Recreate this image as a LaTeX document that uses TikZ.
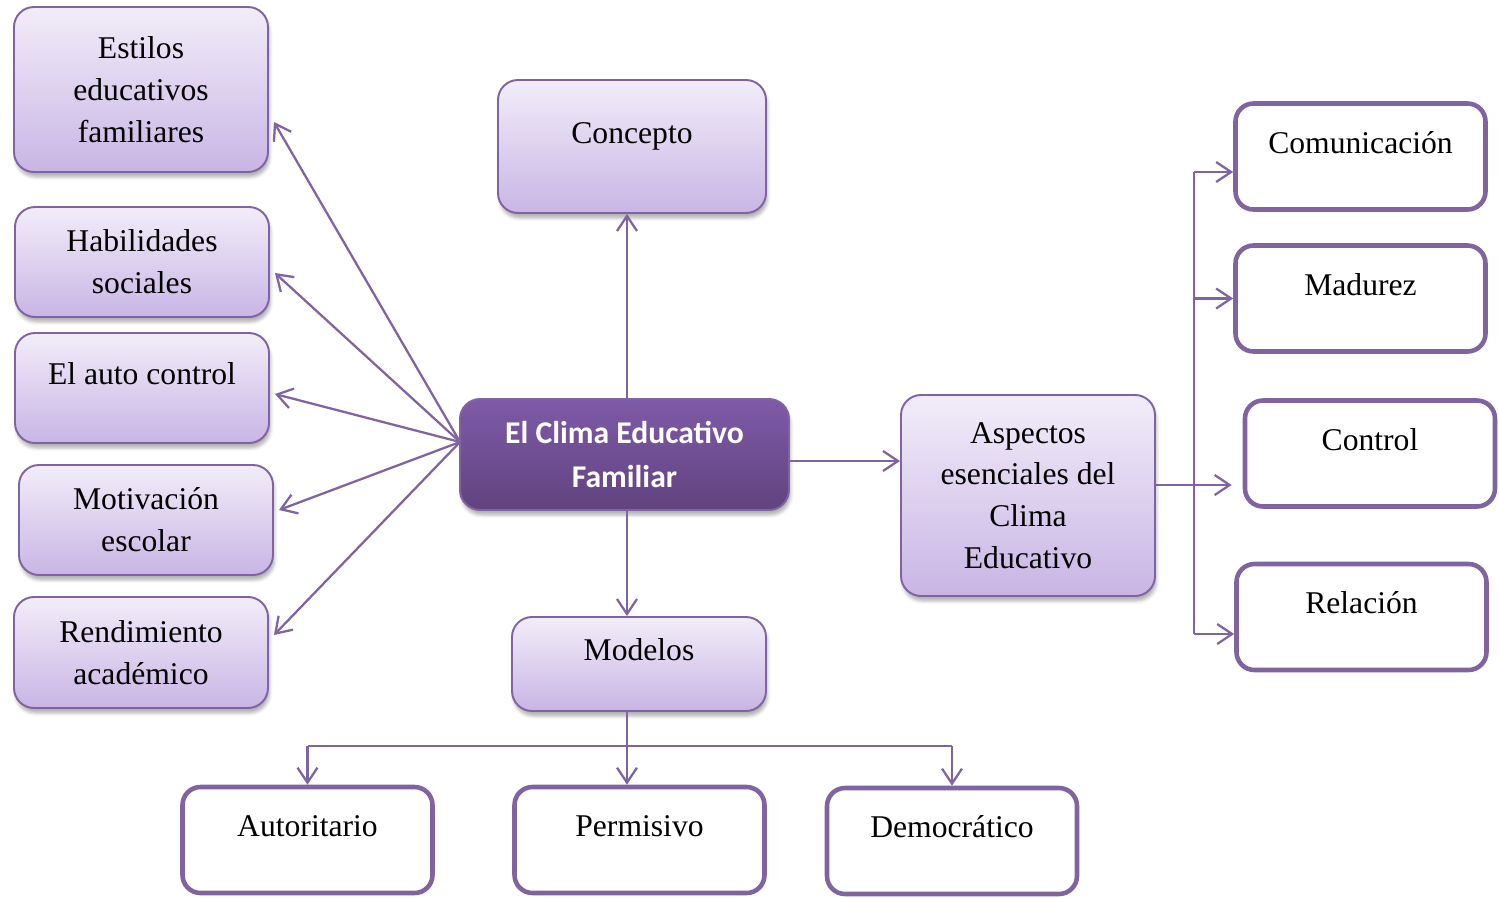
\documentclass[tikz,border=0pt]{standalone}
\usepackage{fontspec}
\setmainfont{Liberation Serif}
\newfontfamily\calibri{Carlito}
\usepackage{tikz}
\usetikzlibrary{positioning,shapes,calc,arrows.meta,shadows.blur}
\definecolor{violetline}{HTML}{8064A2}
\definecolor{lilactop}{HTML}{F2EDF9}
\definecolor{lilacbottom}{HTML}{C9B5E5}
\definecolor{coretop}{HTML}{7F5AA8}
\definecolor{corebottom}{HTML}{61437F}
\newcommand{\boxfont}{\fontsize{18}{23.8}\selectfont}

\begin{document}
\begin{tikzpicture}[align=center,>={Straight Barb[length=0.3cm,width=0.4cm]}]
    \tikzstyle{topic} = [draw=violetline,line width=1.1pt,rounded corners=0.4cm,top color=lilactop,bottom color=lilacbottom,
      blur shadow={shadow xshift=0.03cm,shadow yshift=-0.1cm,shadow opacity=30},font=\boxfont,minimum width=5.08cm,minimum height=2.2cm]
    \tikzstyle{core} = [draw=violetline,line width=1.1pt,rounded corners=0.4cm,top color=coretop,bottom color=corebottom,text=white,
      blur shadow={shadow xshift=0.03cm,shadow yshift=-0.1cm,shadow opacity=30},font=\calibri\bfseries\fontsize{18}{25.5}\selectfont,minimum width=6.58cm,minimum height=2.22cm]
    \tikzstyle{leaf} = [draw=violetline,line width=2.6pt,rounded corners=0.36cm,fill=white,font=\boxfont,minimum width=5.0cm,minimum height=2.12cm]
    \tikzstyle{upper} = [text height=0.45cm,text depth=0.59cm]
    \tikzstyle{link} = [draw=violetline,line width=1.3pt]
    \useasboundingbox (0,0) rectangle (29.98,-17.94);
      % centre and the boxes round it
      \node[core] (clima) at (12.49,-9.09) {El Clima Educativo\\Familiar};
      \node[topic,upper,minimum width=5.36cm,minimum height=2.66cm] (concepto) at (12.64,-2.93) {Concepto};
      \node[topic,minimum height=4.02cm] (aspectos) at (20.56,-9.91) {Aspectos\\esenciales del\\Clima\\Educativo};
      \node[topic,upper,minimum height=1.88cm] (modelos) at (12.78,-13.28) {Modelos};
      % left column
      \node[topic,minimum height=3.3cm] (estilos) at (2.82,-1.79) {Estilos\\educativos\\familiares};
      \node[topic] (habil) at (2.84,-5.24) {Habilidades\\sociales};
      \node[topic,upper] (auto) at (2.84,-7.76) {El auto control};
      \node[topic] (motiv) at (2.92,-10.40) {Motivación\\escolar};
      \node[topic,minimum height=2.22cm] (rend) at (2.82,-13.05) {Rendimiento\\académico};
      % right column
      \node[leaf,upper] (comunic) at (27.21,-3.13) {Comunicación};
      \node[leaf,upper] (madurez) at (27.21,-5.97) {Madurez};
      \node[leaf,upper] (control) at (27.40,-9.07) {Control};
      \node[leaf,upper] (relacion) at (27.23,-12.34) {Relación};
      % bottom row
      \node[leaf,upper] (autorit) at (6.15,-16.80) {Autoritario};
      \node[leaf,upper] (permis) at (12.79,-16.80) {Permisivo};
      \node[leaf,upper] (democ) at (19.04,-16.82) {Democrático};
      % connectors
      \coordinate (spine) at (12.54,-9.22);
      \draw[link,->] (spine |- clima.north) -- (spine |- concepto.south);
      \draw[link,->] (spine -| clima.east) -- (spine -| aspectos.west);
      \draw[link,->] (spine |- clima.south) -- (spine |- modelos.north);
      \coordinate (hub) at (9.20,-8.84);
      \foreach \n/\dy in {estilos/-0.65,habil/-0.22,auto/-0.12,motiv/0.2,rend/0.35} \draw[link,->] (hub) -- ([xshift=0.1cm,yshift=\dy cm]\n.east);
      \coordinate (trunk) at (23.88,-9.70);
      \draw[link] (aspectos.east |- trunk) -- (trunk);
      \foreach \n/\dx/\dy in {comunic/0/-0.31,madurez/0/0,control/-0.22/-0.63,relacion/0/-0.34}{
        \coordinate (\n-in) at ([xshift=\dx cm,yshift=\dy cm]\n.west);
        \draw[link,->] (trunk |- \n-in) -- (\n-in);
      }
      \draw[link] (trunk |- comunic-in) -- (trunk |- relacion-in);
      \coordinate (split) at (12.54,-14.92);
      \draw[link,->] (split |- modelos.south) -- (split |- permis.north);
      \draw[link] (split -| autorit) -- (split -| democ);
      \draw[link,->] (split -| autorit) -- (autorit.north);
      \draw[link,->] (split -| democ) -- (democ.north);
  \end{tikzpicture}
\end{document}
